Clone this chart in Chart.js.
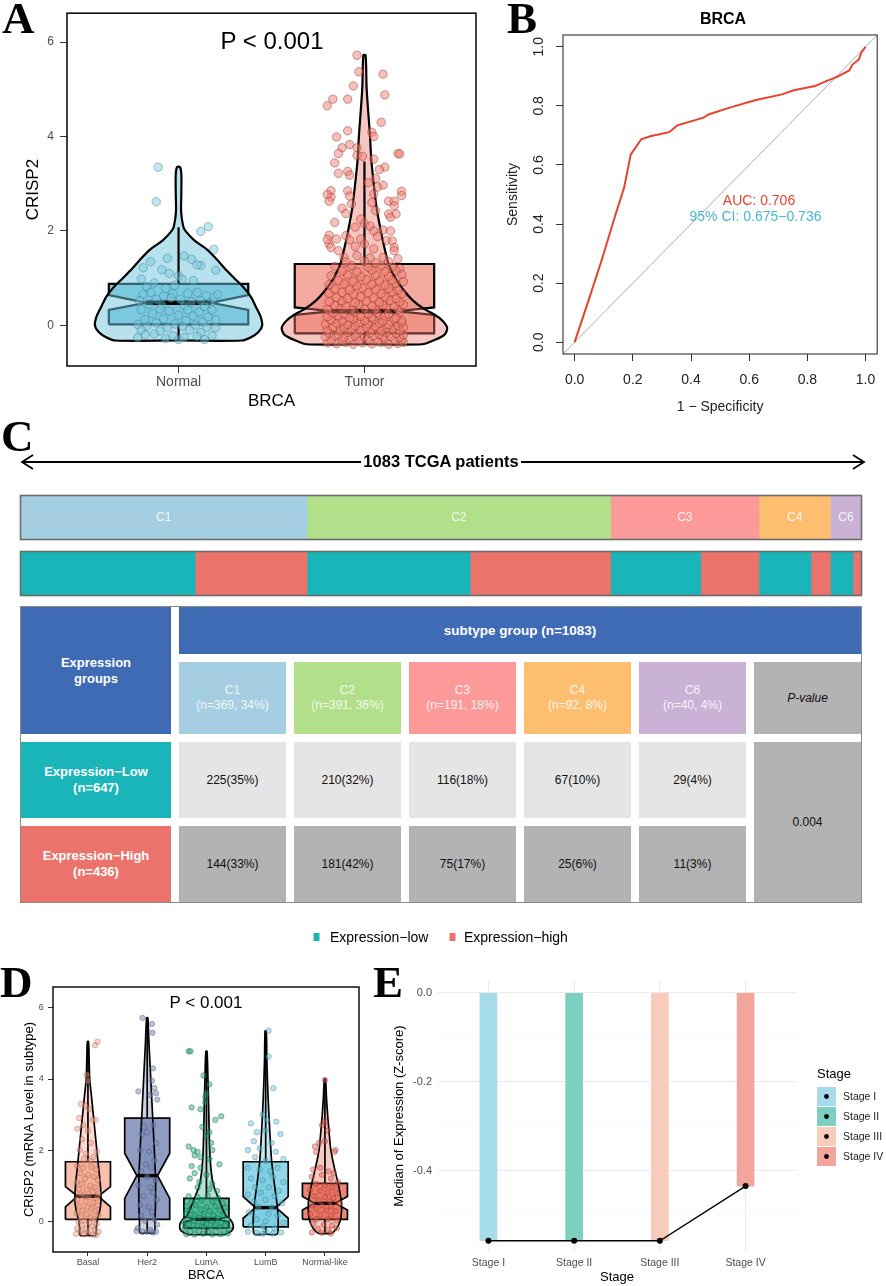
<!DOCTYPE html>
<html>
<head>
<meta charset="utf-8">
<title>CRISP2 in BRCA</title>
<script src="https://cdn.jsdelivr.net/npm/chart.js@4.4.1/dist/chart.umd.min.js"></script>
<style>
  html, body { margin: 0; padding: 0; background: #fff; }
  #page { position: relative; width: 886px; height: 1286px; overflow: hidden;
          font-family: "Liberation Sans", Arial, Helvetica, sans-serif; }
  canvas { position: absolute; }
  svg.over { position: absolute; left: 0; top: 0; }
  #tbl { position: absolute; left: 20px; top: 606px; width: 842px; height: 297px; box-sizing: border-box;
         border: 1px solid #8a8a8a; display: grid; grid-template-columns: 150px repeat(6, 107px);
         grid-template-rows: 47px 72px 76px 76px; gap: 8px; background: #fff; }
  #tbl .c { display: flex; align-items: center; justify-content: center; text-align: center;
            font-size: 12px; line-height: 15px; color: #111; }
  #tbl .hd { color: #fff; font-weight: bold; font-size: 13px; line-height: 16px; }
  #tbl .st { color: rgba(255,255,255,0.88); font-size: 12px; line-height: 15px; }
</style>
</head>
<body>
<div id="page">
  <canvas id="cA" width="481" height="420" style="left:0;top:0;width:481px;height:420px"></canvas>
  <canvas id="cB" width="406" height="420" style="left:480px;top:0;width:406px;height:420px"></canvas>
  <canvas id="cC1" width="844" height="47" style="left:19px;top:494px;width:844px;height:47px"></canvas>
  <canvas id="cC2" width="844" height="47" style="left:19px;top:550px;width:844px;height:47px"></canvas>
  <div id="tbl"></div>
  <canvas id="cD" width="370" height="346" style="left:0;top:940px;width:370px;height:346px"></canvas>
  <canvas id="cE" width="430" height="346" style="left:380px;top:940px;width:430px;height:346px"></canvas>
  <svg class="over" width="886" height="1286" id="over"></svg>
</div>

<script>
// ---------- data ----------
// Panel A: CRISP2 expression, Normal vs Tumor
const aGroups = ['Normal', 'Tumor'];
const aTicksY = [0, 2, 4, 6];
const aQ1 = [0.02, -0.17];
const aMed = [0.48, 0.30];
const aQ3 = [0.88, 1.30];
const aNotchLo = [0.33, 0.22];
const aNotchHi = [0.64, 0.38];
const aWhiskLo = [-0.32, -0.40];
const aWhiskHi = [2.08, 3.47];
// violin outline: [y, half width]
const aViolinNormal = [[3.35,0.008],[3.2,0.015],[2.8,0.015],[2.4,0.014],[2.1,0.025],[2.0,0.037],[1.8,0.085],[1.6,0.155],[1.4,0.205],[1.2,0.25],[1.0,0.30],[0.8,0.35],[0.6,0.39],[0.4,0.415],[0.2,0.44],[0.0,0.45],[-0.14,0.43],[-0.25,0.39],[-0.32,0.34]];
const aViolinTumor = [[5.72,0.006],[5.0,0.012],[4.0,0.03],[3.5,0.037],[3.0,0.05],[2.5,0.065],[2.0,0.088],[1.6,0.11],[1.3,0.13],[1.0,0.166],[0.75,0.21],[0.53,0.26],[0.35,0.32],[0.22,0.38],[0.1,0.42],[-0.05,0.445],[-0.2,0.43],[-0.32,0.37],[-0.4,0.31]];
// jittered samples: [x offset, value]
const aPtsNormal = [[-0.11,3.35],[-0.12,2.62],[0.16,2.09],[0.12,1.99],[0.19,1.61],
 [-0.19,1.22],[-0.15,1.35],[-0.06,1.42],[0.03,1.47],[0.07,1.4],[0.12,1.27],[0.2,1.17],[0.1,1.28],
 [-0.2,0.98],[-0.09,1.18],[-0.05,1.1],[0.0,1.05],[0.02,0.98],[0.08,0.95],[-0.13,0.9],[-0.02,0.85],
 [-0.17,0.82],[-0.07,0.78],[-0.19,0.66],[-0.15,0.7],[-0.08,0.62],[-0.03,0.67],[0.05,0.68],[0.1,0.7],[0.15,0.63],[0.19,0.59],[0.21,0.65],
 [-0.21,0.52],[-0.12,0.55],[-0.04,0.58],[0.01,0.55],[0.07,0.5],[0.12,0.52],[0.17,0.47],[-0.16,0.45],[-0.09,0.43],[0.03,0.42],[0.14,0.4],
 [-0.2,0.33],[-0.1,0.35],[-0.05,0.3],[0.05,0.33],[0.11,0.28],[0.18,0.33],[-0.14,0.25],[0.0,0.22],[0.08,0.2],[0.16,0.18],
 [-0.18,0.12],[-0.08,0.14],[0.04,0.1],[0.13,0.07],[0.2,0.12],[-0.12,0.05],[-0.02,0.03],[0.09,0.0],[-0.22,0.02],
 [-0.17,-0.02],[-0.06,-0.05],[0.02,-0.02],[0.15,-0.04],[0.2,-0.05],[-0.2,-0.1],[-0.1,-0.12],[0.06,-0.1],[0.12,-0.15],
 [-0.18,-0.2],[-0.13,-0.18],[-0.03,-0.22],[0.03,-0.25],[0.1,-0.23],[0.18,-0.22],[-0.22,-0.26],[-0.07,-0.28],[0.0,-0.3],[0.14,-0.3]];
const aPtsTumor = [[-0.04,5.72],[-0.03,5.37],[0.1,5.32],[-0.06,5.07],[0.11,4.88],[-0.17,4.79],[-0.2,4.65],[-0.09,4.79],[0.09,4.3],[-0.09,4.12],[-0.15,3.99],[0.04,4.09],[0.05,4.0],[-0.08,3.83],[-0.12,3.76],[-0.14,3.64],[-0.04,3.76],[0.18,3.64],[0.19,3.63],[-0.04,3.6],[-0.01,3.58],[0.05,3.52],[-0.16,3.44],[0.11,3.35],[0.08,3.3],[-0.14,3.22],[-0.09,3.26],[-0.08,3.18],[0.06,3.11],[0.1,2.97],[0.02,3.02],[0.07,2.93],[-0.09,2.85],[-0.18,2.85],[-0.18,2.72],[0.2,2.84],[-0.08,2.74],[0.05,2.78],[0.2,2.75],[-0.2,2.77],[-0.19,2.63],[0.04,2.6],[-0.07,2.57],[0.13,2.63],[0.16,2.63],[0.16,2.53],[0.06,2.43],[-0.12,2.48],[-0.1,2.37],[0.13,2.36],[0.17,2.36],[0.14,2.29],[-0.16,2.18],[-0.02,2.25],[-0.05,2.08],[0.0,2.15],[0.03,2.1],[0.05,2.0],[0.1,2.02],[0.14,2.0],[-0.19,1.91],[-0.15,1.83],[-0.19,1.72],[-0.2,1.82],[-0.18,1.65],[-0.1,1.9],[-0.08,1.81],[-0.02,1.83],[0.07,1.88],[0.12,1.8],[0.15,1.79],[0.16,1.65],[-0.14,1.58],[-0.05,1.67],[0.0,1.72],[0.05,1.62],[0.16,1.58],[-0.11,1.44],[-0.04,1.48],[0.03,1.43],[0.1,1.44],[0.18,1.41],[0.19,1.2],
 [-0.2,-0.37],[-0.15,-0.39],[-0.1,-0.36],[-0.06,-0.4],[-0.01,-0.37],[0.04,-0.39],[0.09,-0.36],[0.13,-0.4],[0.18,-0.38],[0.21,-0.36],
 [-0.18,-0.31],[-0.12,-0.33],[-0.08,-0.29],[-0.03,-0.32],[0.02,-0.3],[0.07,-0.33],[0.11,-0.29],[0.16,-0.31],[0.2,-0.3],
 [-0.21,-0.24],[-0.16,-0.22],[-0.11,-0.26],[-0.05,-0.23],[0.0,-0.25],[0.05,-0.22],[0.1,-0.25],[0.14,-0.23],[0.19,-0.26],
 [-0.19,-0.17],[-0.14,-0.19],[-0.09,-0.15],[-0.04,-0.18],[0.03,-0.16],[0.08,-0.19],[0.12,-0.15],[0.17,-0.17],[0.21,-0.2],
 [-0.2,-0.1],[-0.13,-0.12],[-0.07,-0.08],[-0.02,-0.11],[0.04,-0.09],[0.09,-0.12],[0.15,-0.08],[0.19,-0.11],
 [-0.17,-0.03],[-0.11,-0.05],[-0.05,-0.01],[0.01,-0.04],[0.06,-0.02],[0.12,-0.05],[0.18,-0.01],[0.21,-0.04],
 [-0.21,0.03],[-0.15,0.05],[-0.09,0.02],[-0.03,0.06],[0.02,0.03],[0.08,0.05],[0.13,0.02],[0.2,0.06],
 [-0.18,0.11],[-0.12,0.09],[-0.06,0.13],[0.0,0.1],[0.05,0.12],[0.1,0.09],[0.16,0.13],[0.2,0.1],
 [-0.2,0.18],[-0.14,0.2],[-0.08,0.16],[-0.02,0.19],[0.04,0.17],[0.11,0.2],[0.17,0.16],
 [-0.17,0.26],[-0.11,0.24],[-0.05,0.28],[0.02,0.25],[0.07,0.27],[0.13,0.24],[0.19,0.28],
 [-0.2,0.34],[-0.13,0.36],[-0.07,0.32],[0.0,0.35],[0.06,0.33],[0.12,0.37],[0.18,0.33],
 [-0.16,0.42],[-0.1,0.4],[-0.03,0.44],[0.04,0.41],[0.1,0.43],[0.16,0.4],[0.21,0.44],
 [-0.19,0.5],[-0.12,0.52],[-0.05,0.48],[0.01,0.51],[0.08,0.49],[0.14,0.53],[0.19,0.5],
 [-0.15,0.59],[-0.09,0.57],[-0.02,0.61],[0.05,0.58],[0.11,0.6],[0.17,0.57],
 [-0.19,0.68],[-0.12,0.7],[-0.06,0.66],[0.02,0.69],[0.09,0.67],[0.15,0.71],[0.2,0.67],
 [-0.16,0.77],[-0.08,0.75],[-0.01,0.79],[0.06,0.76],[0.13,0.78],[0.18,0.75],
 [-0.19,0.86],[-0.11,0.88],[-0.04,0.84],[0.04,0.87],[0.11,0.85],[0.17,0.89],
 [-0.14,0.95],[-0.06,0.93],[0.01,0.97],[0.08,0.94],[0.15,0.96],[0.21,0.93],
 [-0.18,1.05],[-0.09,1.07],[-0.02,1.03],[0.06,1.06],[0.13,1.04],[0.2,1.08],
 [-0.12,1.15],[-0.04,1.13],[0.04,1.17],[0.11,1.14],[0.17,1.16],
 [-0.16,1.25],[-0.07,1.27],[0.02,1.23],[0.09,1.26],[0.15,1.24],
 [-0.1,1.34],[0.0,1.36],[0.06,1.32],[0.13,1.35]];

// Panel B: ROC curve
const rocFpr = [0,0.049,0.094,0.139,0.17,0.193,0.229,0.26,0.325,0.353,0.443,0.46,0.533,0.623,0.713,0.753,0.826,0.865,0.904,0.944,0.955,0.977,0.985,1.0];
const rocTpr = [0,0.145,0.281,0.427,0.523,0.636,0.687,0.697,0.711,0.734,0.76,0.771,0.794,0.82,0.839,0.853,0.867,0.884,0.899,0.92,0.94,0.957,0.98,1.0];
const bTicks = [0, 0.2, 0.4, 0.6, 0.8, 1.0];

// Panel C: subtype / expression groups
const subtypes = ['C1', 'C2', 'C3', 'C4', 'C6'];
const subtypeN = [369, 391, 191, 92, 40];
const subtypePct = [34, 36, 18, 8, 4];
const lowN = [225, 210, 116, 67, 29];
const lowPct = [35, 32, 18, 10, 4];
const highN = [144, 181, 75, 25, 11];
const highPct = [33, 42, 17, 6, 3];
const pValue = '0.004';

// Panel D: PAM50 subtypes
const dGroups = ['Basal', 'Her2', 'LumA', 'LumB', 'Normal-like'];
const dTicksY = [0, 2, 4, 6];
const dQ1 = [0.05, 0.05, -0.2, -0.16, 0.05];
const dMed = [0.7, 1.28, 0.05, 0.38, 0.5];
const dQ3 = [1.67, 2.9, 0.64, 1.67, 1.06];
const dNotchLo = [0.4, 0.64, -0.02, 0.08, 0.31];
const dNotchHi = [0.97, 1.91, 0.12, 0.69, 0.69];
const dWhiskLo = [-0.4, -0.33, -0.37, -0.37, -0.33];
const dWhiskHi = [5.05, 5.72, 4.78, 5.35, 4.0];
const dViolins = [
 [[5.05,0.01],[4.5,0.02],[4.0,0.03],[3.5,0.06],[3.0,0.09],[2.5,0.12],[2.0,0.15],[1.5,0.18],[1.0,0.21],[0.6,0.22],[0.3,0.2],[0.05,0.16],[-0.2,0.14],[-0.4,0.13]],
 [[5.72,0.01],[5.0,0.03],[4.0,0.06],[3.0,0.09],[2.0,0.12],[1.2,0.14],[0.5,0.14],[0.0,0.13],[-0.33,0.12]],
 [[4.78,0.01],[4.0,0.025],[3.0,0.04],[2.0,0.055],[1.4,0.08],[1.0,0.12],[0.7,0.19],[0.4,0.26],[0.15,0.33],[0.05,0.4],[-0.1,0.45],[-0.25,0.44],[-0.33,0.38],[-0.38,0.3]],
 [[5.35,0.01],[4.5,0.02],[3.5,0.04],[2.5,0.07],[1.7,0.1],[1.0,0.15],[0.5,0.19],[0.1,0.21],[-0.2,0.21],[-0.37,0.19]],
 [[4.0,0.01],[3.5,0.025],[3.0,0.045],[2.5,0.07],[2.0,0.1],[1.5,0.16],[1.0,0.23],[0.5,0.28],[0.1,0.27],[-0.15,0.22],[-0.3,0.15],[-0.35,0.1]]
];
const dPts = [
 [[0.16,5.05],[0.12,4.95],[-0.02,4.12],[0.0,3.95],[-0.12,3.3],[-0.05,3.25],[0.02,3.15],[-0.15,2.9],[0.08,2.85],[0.13,2.85],[-0.08,2.7],[-0.18,2.6],[0.0,2.55],
  [-0.1,2.3],[0.05,2.2],[0.15,1.95],[-0.14,2.0],[-0.03,1.9],[0.09,1.8],[-0.07,1.75],[0.03,1.7],
  [-0.18,1.55],[-0.08,1.5],[0.06,1.52],[0.14,1.45],[-0.13,1.35],[0.0,1.3],[0.1,1.25],[-0.05,1.2],[0.17,1.15],[-0.19,1.1],[-0.1,1.05],[0.04,1.0],[0.12,0.95],[-0.15,0.9],[-0.02,0.88],[0.08,0.82],[0.18,0.78],[-0.12,0.75],[-0.06,0.7],[0.02,0.68],[0.14,0.65],[-0.18,0.6],[-0.04,0.55],[0.09,0.52],[0.16,0.45],[-0.14,0.42],[0.0,0.4],[0.06,0.35],[-0.09,0.3],[0.12,0.28],[-0.19,0.22],[-0.02,0.2],[0.18,0.15],[-0.12,0.12],[0.05,0.1],[0.1,0.05],[-0.06,0.02],[-0.16,-0.02],[0.02,-0.05],[0.15,-0.08],[-0.1,-0.12],[0.07,-0.15],[-0.18,-0.2],[-0.03,-0.22],[0.12,-0.25],[-0.13,-0.3],[0.0,-0.32],[0.18,-0.3],[-0.07,-0.37],[0.08,-0.38],[-0.2,-0.36],[0.14,-0.39]],
 [[-0.08,5.72],[0.08,5.55],[0.09,5.3],[-0.15,3.65],[0.1,4.3],[0.08,3.95],[0.12,3.75],[0.15,3.6],[0.17,3.42],[0.05,3.55],
  [-0.05,2.65],[-0.09,2.45],[0.0,2.5],[0.1,2.7],[0.15,2.2],[-0.12,2.0],[0.03,1.95],[0.12,1.7],[-0.02,1.6],[0.07,1.5],[-0.1,1.4],[0.0,1.25],[0.14,1.15],[-0.15,1.0],[0.05,0.95],[0.1,0.8],[-0.06,0.7],[0.16,0.6],[-0.12,0.45],[0.02,0.4],[0.08,0.25],[-0.1,0.15],[0.12,0.05],[-0.03,0.0],[0.17,-0.1],[-0.16,-0.2],[0.05,-0.25],[-0.08,-0.3],[0.1,-0.32],[0.0,-0.3],[-0.18,-0.28],[0.15,-0.3]],
 [[-0.3,4.78],[-0.27,4.78],[-0.05,4.1],[0.05,3.85],[0.0,3.6],[-0.02,3.5],[-0.02,3.35],[-0.25,3.2],[-0.1,3.15],[0.25,2.95],[0.15,2.85],[-0.07,2.65],[0.0,2.4],[0.05,2.5],[0.08,2.2],[-0.3,2.1],[-0.22,2.0],[-0.15,1.95],[0.1,2.0],[-0.2,1.85],[-0.1,1.8],[0.05,1.75],[0.22,1.6],[-0.25,1.55],[-0.1,1.5],[-0.2,1.35],[-0.28,1.2],[0.0,1.3],[-0.12,1.1],[0.1,1.05],[-0.15,0.95],[0.05,0.9],[0.18,0.85],
  [-0.3,0.7],[-0.15,0.68],[0.02,0.72],[0.2,0.65],[-0.25,0.55],[-0.08,0.58],[0.1,0.55],[0.28,0.5],[-0.33,0.42],[-0.18,0.45],[0.0,0.4],[0.15,0.42],[0.32,0.38],[-0.28,0.3],[-0.1,0.32],[0.06,0.28],[0.22,0.3],[-0.35,0.2],[-0.2,0.18],[-0.04,0.2],[0.12,0.17],[0.28,0.15],[-0.3,0.08],[-0.12,0.1],[0.03,0.06],[0.18,0.08],[0.35,0.05],[-0.38,-0.02],[-0.22,0.0],[-0.06,-0.03],[0.1,-0.01],[0.25,-0.04],[-0.3,-0.1],[-0.15,-0.12],[0.0,-0.08],[0.15,-0.11],[0.32,-0.13],[-0.36,-0.2],[-0.2,-0.22],[-0.05,-0.18],[0.08,-0.21],[0.22,-0.19],[0.38,-0.22],[-0.28,-0.3],[-0.12,-0.28],[0.02,-0.31],[0.16,-0.29],[0.3,-0.32],[-0.34,-0.37],[-0.2,-0.38],[-0.06,-0.36],[0.1,-0.38],[0.24,-0.37],[0.36,-0.35]],
 [[0.05,5.36],[0.05,4.63],[0.13,3.74],[-0.05,3.0],[0.02,2.85],[-0.25,2.75],[0.18,2.8],[-0.15,2.5],[0.0,2.55],[0.25,2.45],[-0.2,2.25],[0.1,2.2],[-0.3,2.0],[-0.1,2.05],[0.17,1.95],[0.3,1.75],[-0.18,1.8],[0.0,1.7],[-0.3,1.5],[0.2,1.5],[-0.1,1.45],[0.08,1.4],[-0.25,1.2],[0.12,1.25],[0.3,1.1],[-0.05,1.15],[-0.18,0.95],[0.05,0.95],[0.22,0.85],[-0.3,0.75],[-0.08,0.8],[0.15,0.7],[-0.2,0.55],[0.0,0.6],[0.28,0.5],[-0.12,0.4],[0.1,0.38],[-0.28,0.25],[0.05,0.2],[0.2,0.15],[-0.15,0.05],[0.0,0.0],[0.3,-0.05],[-0.25,-0.12],[-0.05,-0.15],[0.15,-0.2],[-0.3,-0.3],[-0.15,-0.33],[0.0,-0.3],[0.12,-0.35],[0.26,-0.32],[-0.05,-0.36]],
 [[0.0,3.97],[0.0,2.8],[-0.05,2.7],[0.05,2.55],[-0.1,2.2],[0.0,2.25],[-0.17,2.1],[-0.15,1.95],[0.18,2.0],[0.16,1.95],[-0.2,1.45],[-0.08,1.5],[0.06,1.4],[0.15,1.35],[-0.22,1.25],[-0.05,1.3],[0.1,1.2],[0.22,1.1],[-0.15,1.05],[0.0,1.0],[0.12,0.95],[-0.25,0.88],[-0.08,0.85],[0.05,0.8],[0.2,0.78],[-0.18,0.7],[0.0,0.68],[0.14,0.65],[-0.1,0.58],[0.08,0.55],[0.25,0.5],[-0.22,0.45],[-0.05,0.45],[0.1,0.42],[-0.15,0.35],[0.02,0.3],[0.18,0.28],[-0.25,0.2],[-0.08,0.18],[0.1,0.15],[-0.15,0.05],[0.05,0.05],[0.2,0.02],[-0.2,-0.08],[-0.02,-0.1],[0.12,-0.12],[-0.12,-0.22],[0.05,-0.25],[0.2,-0.2],[-0.22,-0.32],[-0.05,-0.33],[0.1,-0.35]]
];

// Panel E: median expression by stage
const stages = ['Stage I', 'Stage II', 'Stage III', 'Stage IV'];
const stageMedian = [-0.558, -0.558, -0.558, -0.435];
const eTicksY = [-0.5, -0.4, -0.3, -0.2, -0.1, 0];

// ---------- colours ----------
const subtypeColors = ['#a6cee3', '#b2df8a', '#fb9a99', '#fdbf6f', '#cab2d6'];
const lowColor = '#1ab5b8', highColor = '#ec736b';
const stageColors = ['#a6dbea', '#7dcfbf', '#f8cbbd', '#f2a59b'];

Chart.defaults.font.family = '"Liberation Sans", Arial, Helvetica, sans-serif';
Chart.defaults.animation = false;

// ---------- plugins ----------
Chart.register({
  id: 'frame',
  afterDraw(chart, args, opts) {
    if (!opts.width) return;
    const {ctx, chartArea: a} = chart;
    ctx.save();
    ctx.strokeStyle = opts.color || '#000';
    ctx.lineWidth = opts.width;
    ctx.strokeRect(a.left, a.top, a.right - a.left, a.bottom - a.top);
    ctx.restore();
  }
});
Chart.register({
  id: 'rotYTicks',
  afterDraw(chart, args, opts) {
    if (!opts.x) return;
    const s = chart.scales.y, ctx = chart.ctx;
    ctx.save();
    ctx.fillStyle = opts.color;
    ctx.font = opts.font;
    ctx.textAlign = 'center';
    ctx.textBaseline = 'middle';
    s.ticks.forEach(t => {
      ctx.save();
      ctx.translate(opts.x, s.getPixelForValue(t.value));
      ctx.rotate(-Math.PI / 2);
      ctx.fillText(t.value.toFixed(1), 0, 0);
      ctx.restore();
    });
    ctx.restore();
  }
});
Chart.register({
  id: 'segLabels',
  afterDatasetsDraw(chart, args, opts) {
    if (!opts.color) return;
    const ctx = chart.ctx;
    ctx.save();
    ctx.fillStyle = opts.color;
    ctx.font = opts.font;
    ctx.textAlign = 'center';
    ctx.textBaseline = 'middle';
    chart.data.datasets.forEach((ds, i) => {
      const el = chart.getDatasetMeta(i).data[0];
      ctx.fillText(ds.label, (el.x + el.base) / 2, el.y);
    });
    ctx.restore();
  }
});

// ---------- helpers ----------
function violinPoly(c, prof) {
  const yb = prof[prof.length - 1][0];
  const right = prof.slice().reverse().map(p => ({x: c + p[1], y: p[0]}));
  const left = prof.map(p => ({x: c - p[1], y: p[0]}));
  return [{x: c, y: yb}].concat(right, left, [{x: c, y: yb}]);
}
function boxPoly(c, q1, med, q3, nlo, nhi, w, n) {
  return [
    {x: c - w, y: q1}, {x: c - w, y: nlo}, {x: c - n, y: med}, {x: c - w, y: nhi}, {x: c - w, y: q3},
    {x: c + w, y: q3}, {x: c + w, y: nhi}, {x: c + n, y: med}, {x: c + w, y: nlo}, {x: c + w, y: q1},
    {x: c - w, y: q1}
  ];
}
function vbDatasets(g) {
  const sets = [];
  g.violins.forEach((prof, i) => {
    const c = i + 1, n = g.hw * g.nr;
    sets.push({type: 'line', data: boxPoly(c, g.q1[i], g.med[i], g.q3[i], g.nlo[i], g.nhi[i], g.hw, n),
      borderColor: '#000', borderWidth: g.lw, backgroundColor: g.boxFill[i], fill: 'shape',
      pointRadius: 0, tension: 0, order: 4});
    sets.push({type: 'line', data: violinPoly(c, prof),
      borderColor: '#000', borderWidth: g.lw, backgroundColor: g.violinFill[i], fill: 'shape',
      pointRadius: 0, tension: 0.3, order: 3});
    sets.push({type: 'line', data: [{x: c, y: g.wlo[i]}, {x: c, y: g.q1[i]}, {x: c, y: null}, {x: c, y: g.q3[i]}, {x: c, y: g.whi[i]}],
      borderColor: '#000', borderWidth: g.lw, pointRadius: 0, fill: false, order: 2});
    sets.push({type: 'line', data: [{x: c - n, y: g.med[i]}, {x: c + n, y: g.med[i]}],
      borderColor: '#000', borderWidth: g.lw * 2, pointRadius: 0, fill: false, order: 1});
    sets.push({type: 'scatter', data: g.pts[i].map(p => ({x: c + p[0], y: p[1]})),
      backgroundColor: g.ptFill[i], borderColor: g.ptLine[i], borderWidth: 0.8,
      pointRadius: g.pr, order: 0});
  });
  return sets;
}
const noPlug = {legend: {display: false}, tooltip: {enabled: false}};

// ---------- Panel A ----------
new Chart(document.getElementById('cA'), {
  type: 'scatter',
  data: {datasets: vbDatasets({
    violins: [aViolinNormal, aViolinTumor], pts: [aPtsNormal, aPtsTumor],
    q1: aQ1, med: aMed, q3: aQ3, nlo: aNotchLo, nhi: aNotchHi, wlo: aWhiskLo, whi: aWhiskHi,
    hw: 0.375, nr: 0.47, lw: 2.2, pr: 4.2,
    boxFill: ['#86cfe1', '#f3a99e'],
    violinFill: ['rgba(110,196,220,0.5)', 'rgba(236,120,105,0.42)'],
    ptFill: ['rgba(120,200,222,0.45)', 'rgba(240,128,115,0.5)'],
    ptLine: ['rgba(50,120,140,0.55)', 'rgba(140,40,30,0.55)']
  })},
  options: {
    responsive: false,
    layout: {padding: {top: 11, right: 2, left: 0, bottom: 0}},
    plugins: Object.assign({frame: {width: 1.6, color: '#111'}}, noPlug),
    scales: {
      x: {type: 'linear', min: 0.4, max: 2.6,
        afterBuildTicks: s => { s.ticks = aGroups.map((g, i) => ({value: i + 1})); },
        afterFit: s => { s.height = 54; },
        ticks: {callback: (v, i) => aGroups[i], color: '#4d4d4d', font: {size: 14}, padding: 1, maxRotation: 0, autoSkip: false},
        grid: {drawOnChartArea: false, tickLength: 7, tickColor: '#333', color: '#333'},
        border: {display: false},
        title: {display: true, text: 'BRCA', color: '#000', font: {size: 17}, padding: {top: 0, bottom: 8.8}}},
      y: {min: -0.86, max: 6.61,
        afterBuildTicks: s => { s.ticks = aTicksY.map(v => ({value: v})); },
        afterFit: s => { s.width = 67; },
        ticks: {color: '#4d4d4d', font: {size: 12}, padding: 6},
        grid: {drawOnChartArea: false, tickLength: 7, tickColor: '#333', color: '#333'},
        border: {display: false},
        title: {display: true, text: 'CRISP2', color: '#000', font: {size: 17}, padding: {top: 22.8, bottom: 0}}}
    }
  }
});

// ---------- Panel B ----------
new Chart(document.getElementById('cB'), {
  type: 'scatter',
  data: {datasets: [
    {type: 'line', data: rocFpr.map((x, i) => ({x: x, y: rocTpr[i]})), borderColor: '#e8412e', borderWidth: 2,
     pointRadius: 0, tension: 0, fill: false, order: 0},
    {type: 'line', data: [{x: -0.04, y: -0.04}, {x: 1.04, y: 1.04}], borderColor: '#ababab', borderWidth: 1,
     pointRadius: 0, fill: false, order: 1}
  ]},
  options: {
    responsive: false,
    layout: {padding: {top: 35, right: 3, left: 0, bottom: 0}},
    plugins: Object.assign({frame: {width: 1.1, color: '#333'},
      rotYTicks: {x: 59.5, color: '#222', font: '14px "Liberation Sans", Arial, sans-serif'}}, noPlug),
    scales: {
      x: {min: -0.04, max: 1.04,
        afterBuildTicks: s => { s.ticks = bTicks.map(v => ({value: v})); },
        afterFit: s => { s.height = 66; },
        ticks: {callback: v => v.toFixed(1), color: '#222', font: {size: 14}, padding: 10.6, maxRotation: 0, autoSkip: false},
        grid: {drawOnChartArea: false, tickLength: 7, tickColor: '#333', color: '#333'},
        border: {display: false},
        title: {display: true, text: '1 \u2212 Specificity', color: '#222', font: {size: 14}, padding: {top: 0, bottom: 4.6}}},
      y: {min: -0.04, max: 1.04,
        afterBuildTicks: s => { s.ticks = bTicks.map(v => ({value: v})); },
        afterFit: s => { s.width = 83; },
        ticks: {display: false},
        grid: {drawOnChartArea: false, tickLength: 7, tickColor: '#333', color: '#333'},
        border: {display: false},
        title: {display: true, text: 'Sensitivity', color: '#222', font: {size: 14}, padding: {top: 24.6, bottom: 0}}}
    }
  }
});

// ---------- Panel C bars ----------
const total = subtypeN.reduce((a, b) => a + b, 0);
function stripChart(id, labels, values, colors, withLabels) {
  new Chart(document.getElementById(id), {
    type: 'bar',
    data: {labels: [''], datasets: values.map((v, i) => ({label: labels[i], data: [v], backgroundColor: colors[i],
      borderWidth: 0, barPercentage: 1, categoryPercentage: 1}))},
    options: {
      responsive: false, indexAxis: 'y',
      layout: {padding: 1.5},
      plugins: Object.assign({frame: {width: 1.6, color: '#6b6b6b'},
        segLabels: withLabels ? {color: 'rgba(255,255,255,0.88)', font: '12px "Liberation Sans", Arial, sans-serif'} : {}}, noPlug),
      scales: {
        x: {display: false, stacked: true, min: 0, max: total},
        y: {display: false, stacked: true}
      }
    }
  });
}
stripChart('cC1', subtypes, subtypeN, subtypeColors, true);
const exprLabels = [], exprValues = [], exprColors = [];
subtypes.forEach((s, i) => {
  exprLabels.push(s + ' low', s + ' high');
  exprValues.push(lowN[i], highN[i]);
  exprColors.push(lowColor, highColor);
});
stripChart('cC2', exprLabels, exprValues, exprColors, false);

// ---------- Panel C table ----------
const tbl = document.getElementById('tbl');
function cell(html, cls, style) {
  const d = document.createElement('div');
  d.className = 'c ' + cls;
  d.innerHTML = html;
  d.style.cssText = style;
  tbl.appendChild(d);
}
const lowTotal = lowN.reduce((a, b) => a + b, 0);
const highTotal = highN.reduce((a, b) => a + b, 0);
cell('Expression<br>groups', 'hd', 'grid-row:1/3;grid-column:1;background:#3e6bb4');
cell('subtype group (n=' + total + ')', 'hd', 'grid-row:1;grid-column:2/8;background:#3e6bb4;font-size:13.5px');
subtypes.forEach((s, i) => cell(s + '<br>(n=' + subtypeN[i] + ', ' + subtypePct[i] + '%)', 'st',
  'grid-row:2;grid-column:' + (i + 2) + ';background:' + subtypeColors[i]));
cell('<i>P-value</i>', '', 'grid-row:2;grid-column:7;background:#b3b3b3');
cell('Expression\u2212Low<br>(n=' + lowTotal + ')', 'hd', 'grid-row:3;grid-column:1;background:' + lowColor);
lowN.forEach((v, i) => cell(v + '(' + lowPct[i] + '%)', '', 'grid-row:3;grid-column:' + (i + 2) + ';background:#e5e5e5'));
cell('Expression\u2212High<br>(n=' + highTotal + ')', 'hd', 'grid-row:4;grid-column:1;background:' + highColor);
highN.forEach((v, i) => cell(v + '(' + highPct[i] + '%)', '', 'grid-row:4;grid-column:' + (i + 2) + ';background:#b3b3b3'));
cell(pValue, '', 'grid-row:3/5;grid-column:7;background:#b3b3b3');

// ---------- Panel D ----------
new Chart(document.getElementById('cD'), {
  type: 'scatter',
  data: {datasets: vbDatasets({
    violins: dViolins, pts: dPts,
    q1: dQ1, med: dMed, q3: dQ3, nlo: dNotchLo, nhi: dNotchHi, wlo: dWhiskLo, whi: dWhiskHi,
    hw: 0.38, nr: 0.46, lw: 1.7, pr: 2.7,
    boxFill: ['#f8c0ad', '#909dc2', '#68c6a9', '#94d7e8', '#ee8575'],
    violinFill: ['rgba(240,150,125,0.35)', 'rgba(110,125,170,0.35)', 'rgba(40,170,130,0.35)', 'rgba(90,190,215,0.35)', 'rgba(230,100,80,0.35)'],
    ptFill: ['rgba(240,155,130,0.45)', 'rgba(120,135,180,0.5)', 'rgba(30,165,125,0.45)', 'rgba(100,195,220,0.45)', 'rgba(230,95,80,0.45)'],
    ptLine: ['rgba(150,80,60,0.45)', 'rgba(60,70,110,0.45)', 'rgba(10,90,60,0.5)', 'rgba(40,110,130,0.45)', 'rgba(130,40,30,0.45)']
  })},
  options: {
    responsive: false,
    layout: {padding: {top: 47, right: 11, left: 0, bottom: 0}},
    plugins: Object.assign({frame: {width: 1.5, color: '#111'}}, noPlug),
    scales: {
      x: {type: 'linear', min: 0.41, max: 5.575,
        afterBuildTicks: s => { s.ticks = dGroups.map((g, i) => ({value: i + 1})); },
        afterFit: s => { s.height = 34; },
        ticks: {callback: (v, i) => dGroups[i], color: '#4d4d4d', font: {size: 9}, padding: 1.6, maxRotation: 0, autoSkip: false},
        grid: {drawOnChartArea: false, tickLength: 4, tickColor: '#333', color: '#333'},
        border: {display: false},
        title: {display: true, text: 'BRCA', color: '#000', font: {size: 13}, padding: {top: 0, bottom: 3}}},
      y: {min: -0.87, max: 6.59,
        afterBuildTicks: s => { s.ticks = dTicksY.map(v => ({value: v})); },
        afterFit: s => { s.width = 53; },
        ticks: {color: '#4d4d4d', font: {size: 9}, padding: 4.3},
        grid: {drawOnChartArea: false, tickLength: 5, tickColor: '#333', color: '#333'},
        border: {display: false},
        title: {display: true, text: 'CRISP2 (mRNA Level in subtype)', color: '#000', font: {size: 13}, padding: {top: 22, bottom: 0}}}
    }
  }
});

// ---------- Panel E ----------
const stagePts = stages.map((s, i) => ({x: i + 1, y: stageMedian[i]}));
new Chart(document.getElementById('cE'), {
  type: 'bar',
  data: {datasets: [
    {type: 'line', data: stagePts, borderColor: '#000', borderWidth: 1.3, pointRadius: 3,
     pointBackgroundColor: '#000', pointBorderWidth: 0, fill: false, order: 0},
    {type: 'bar', data: stagePts, backgroundColor: stageColors, barThickness: 17, order: 1}
  ]},
  options: {
    responsive: false,
    layout: {padding: {top: 40, right: 13, left: 0, bottom: 0}},
    plugins: noPlug,
    scales: {
      x: {type: 'linear', min: 0.4, max: 4.6, offset: false,
        afterBuildTicks: s => { s.ticks = stages.map((g, i) => ({value: i + 1})); },
        afterFit: s => { s.height = 34; },
        ticks: {callback: (v, i) => stages[i], color: '#4d4d4d', font: {size: 10.5}, padding: 4.7, maxRotation: 0, autoSkip: false},
        grid: {offset: false, drawTicks: false, color: '#ebebeb', lineWidth: 1},
        border: {display: false},
        title: {display: true, text: 'Stage', color: '#000', font: {size: 13}, padding: {top: 0, bottom: 1.2}}},
      y: {min: -0.5833, max: 0.029,
        afterBuildTicks: s => { s.ticks = eTicksY.map(v => ({value: v})); },
        afterFit: s => { s.width = 57; },
        ticks: {callback: v => (Math.round(v * 10) % 2 === 0 ? v.toFixed(1) : ''), color: '#4d4d4d', font: {size: 11}, padding: 5},
        grid: {drawTicks: false,
          color: c => (Math.round(c.tick.value * 10) % 2 === 0 ? '#ebebeb' : '#f5f5f5'),
          lineWidth: c => (Math.round(c.tick.value * 10) % 2 === 0 ? 1 : 0.7)},
        border: {display: false},
        title: {display: true, text: 'Median of Expression (Z-score)', color: '#000', font: {size: 13}, padding: {top: 12, bottom: 0}}}
    }
  }
});

// ---------- overlay text & annotations ----------
const svgNS = 'http://www.w3.org/2000/svg';
const over = document.getElementById('over');
function svgEl(tag, attrs, text) {
  const e = document.createElementNS(svgNS, tag);
  Object.keys(attrs).forEach(k => e.setAttribute(k, attrs[k]));
  if (text !== undefined) e.textContent = text;
  over.appendChild(e);
  return e;
}
const sans = '"Liberation Sans", Arial, sans-serif';
const serif = '"Liberation Serif", "Times New Roman", serif';
[['A', 2, 33], ['B', 507, 33], ['C', 1, 451], ['D', 0, 997], ['E', 373, 997]].forEach(l =>
  svgEl('text', {x: l[1], y: l[2], 'font-family': serif, 'font-weight': 'bold', 'font-size': 45, fill: '#000'}, l[0]));
svgEl('text', {x: 272, y: 49.3, 'text-anchor': 'middle', 'font-family': sans, 'font-size': 24, fill: '#000'}, 'P < 0.001');
svgEl('text', {x: 723, y: 24, 'text-anchor': 'middle', 'font-family': sans, 'font-weight': 'bold', 'font-size': 16, fill: '#000'}, 'BRCA');
svgEl('text', {x: 759, y: 205, 'text-anchor': 'middle', 'font-family': sans, 'font-size': 14, fill: '#e8412e'}, 'AUC: 0.706');
svgEl('text', {x: 755.5, y: 220.7, 'text-anchor': 'middle', 'font-family': sans, 'font-size': 14, fill: '#47b8d0'}, '95% CI: 0.675\u22120.736');
// arrow across the cohort
svgEl('line', {x1: 22, y1: 462, x2: 361, y2: 462, stroke: '#000', 'stroke-width': 1.8});
svgEl('line', {x1: 521, y1: 462, x2: 864, y2: 462, stroke: '#000', 'stroke-width': 1.8});
svgEl('polyline', {points: '33,455 22,462 33,469', fill: 'none', stroke: '#000', 'stroke-width': 1.8});
svgEl('polyline', {points: '853,455 864,462 853,469', fill: 'none', stroke: '#000', 'stroke-width': 1.8});
svgEl('text', {x: 441, y: 467, 'text-anchor': 'middle', 'font-family': sans, 'font-weight': 'bold', 'font-size': 16.5, fill: '#000'},
  total + ' TCGA patients');
// expression legend
svgEl('rect', {x: 313.5, y: 933, width: 6, height: 8, fill: lowColor});
svgEl('text', {x: 330, y: 942, 'font-family': sans, 'font-size': 14, fill: '#000'}, 'Expression\u2212low');
svgEl('rect', {x: 449.5, y: 933, width: 6, height: 8, fill: highColor});
svgEl('text', {x: 464, y: 942, 'font-family': sans, 'font-size': 14, fill: '#000'}, 'Expression\u2212high');
svgEl('text', {x: 206, y: 1008, 'text-anchor': 'middle', 'font-family': sans, 'font-size': 17, fill: '#000'}, 'P < 0.001');
// stage legend
svgEl('text', {x: 817, y: 1078, 'font-family': sans, 'font-size': 13, fill: '#000'}, 'Stage');
stages.forEach((s, i) => {
  const y0 = 1087 + i * 20;
  svgEl('rect', {x: 817, y: y0, width: 19, height: 19, fill: stageColors[i]});
  svgEl('circle', {cx: 826.5, cy: y0 + 9.5, r: 2.4, fill: '#000'});
  svgEl('text', {x: 843, y: y0 + 13.3, 'font-family': sans, 'font-size': 10.5, fill: '#1a1a1a'}, s);
});
</script>
</body>
</html>
